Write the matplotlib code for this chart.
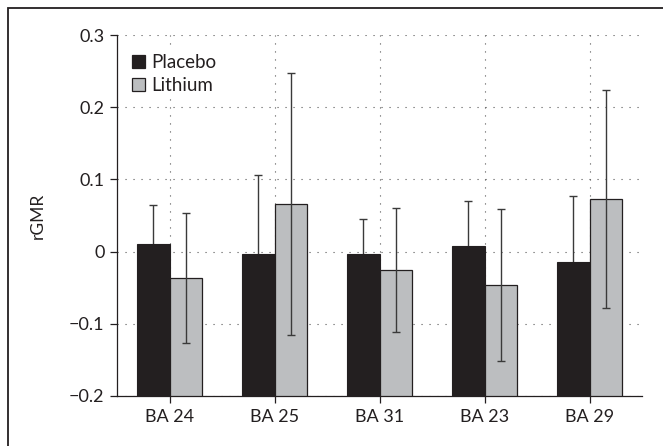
import numpy as np
import matplotlib
matplotlib.use("Agg")
import matplotlib.pyplot as plt
from matplotlib.patches import Rectangle, Patch

plt.rcParams['font.family'] = ['Lato', 'DejaVu Sans']

regions = ["BA 24", "BA 25", "BA 31", "BA 23", "BA 29"]
placebo_mean = [0.011, -0.004, -0.004, 0.008, -0.015]
placebo_err = [0.054, 0.110, 0.049, 0.062, 0.092]
lithium_mean = [-0.036, 0.066, -0.026, -0.046, 0.073]
lithium_err = [0.090, 0.181, 0.086, 0.105, 0.151]
yticks = [-0.2, -0.1, 0, 0.1, 0.2, 0.3]
ytick_labels = ["\u22120.2", "\u22120.1", "0", "0.1", "0.2", "0.3"]

ink = "#231f20"
grey = "#bcbec0"
base = -0.2

fig = plt.figure(figsize=(6.63, 4.46), dpi=100)
ax = fig.add_axes([117 / 663, 50 / 446, 525 / 663, 361 / 446])

# Frame around the whole figure (open at right and bottom edges)
fig.patches.append(Rectangle((8 / 663, -0.1), 2.0, 1.1 - 8 / 446,
                             transform=fig.transFigure, fill=False,
                             edgecolor=ink, linewidth=1.3, clip_on=False))

x = np.arange(len(regions))
w = 0.308

pm = np.array(placebo_mean)
lm = np.array(lithium_mean)
# Placebo whiskers sit behind the dark bars, so only the upper half shows
ax.errorbar(x - w / 2, pm, yerr=placebo_err, fmt="none", ecolor="#3a3a3a",
            elinewidth=1.0, capsize=2.9, capthick=1.0, zorder=2.5)
ax.bar(x - w / 2, pm - base, w, bottom=base, color=ink, edgecolor=ink,
       linewidth=0.8, zorder=3)
ax.bar(x + w / 2, lm - base, w, bottom=base, color=grey, edgecolor=ink,
       linewidth=0.9, zorder=3)
ax.errorbar(x + w / 2, lm, yerr=lithium_err, fmt="none", ecolor="#3a3a3a",
            elinewidth=1.0, capsize=2.9, capthick=1.0, zorder=4)

ax.set_xlim(-0.5, len(regions) - 0.5)
ax.set_ylim(-0.2, 0.3)
ax.set_xticks(x)
ax.set_xticklabels(regions, fontsize=13, color=ink)
ax.set_yticks(yticks)
ax.set_yticklabels(ytick_labels, fontsize=13, color=ink)
ax.tick_params(axis="both", direction="out", length=5, width=0.9, color=ink,
               pad=4)
ax.set_ylabel("rGMR", fontsize=12.5, color=ink, labelpad=17)

for s in ("top", "right"):
    ax.spines[s].set_visible(False)
for s in ("left", "bottom"):
    ax.spines[s].set_color(ink)
    ax.spines[s].set_linewidth(0.9)

ax.set_axisbelow(True)
ax.grid(True, color="#555555", linewidth=0.8, linestyle=(0, (1, 6.2)))

handles = [Patch(facecolor=ink, edgecolor=ink, linewidth=0.9),
           Patch(facecolor=grey, edgecolor=ink, linewidth=0.9)]
leg = ax.legend(handles, ["Placebo", "Lithium"], loc="upper left",
                bbox_to_anchor=(0.02, 0.96), fontsize=13.5,
                handlelength=0.7, handleheight=0.7, handletextpad=0.3,
                labelspacing=0.3, borderpad=0.25, frameon=True,
                facecolor="white", edgecolor="none", framealpha=1.0,
                borderaxespad=0)
leg.get_frame().set_linewidth(0)
for t in leg.get_texts():
    t.set_color(ink)

fig.savefig("out.png", dpi=100)
